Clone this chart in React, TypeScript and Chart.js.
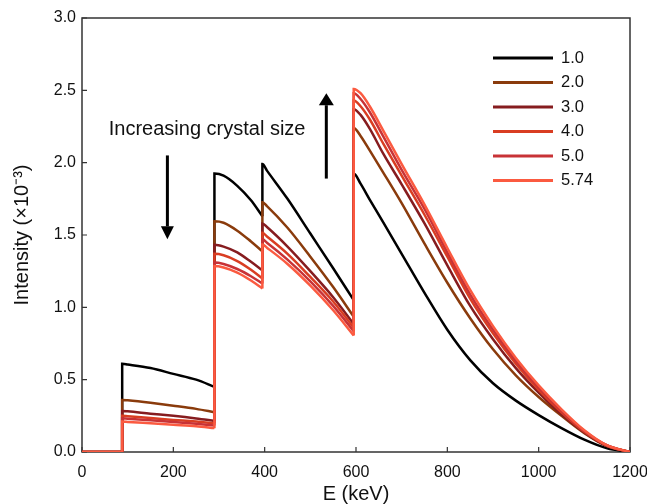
import React, { useEffect, useRef } from "react";
import { Chart, registerables } from "chart.js";

Chart.register(...registerables);

const FONT = "'Liberation Sans', Arial, Helvetica, sans-serif";

// Photon energy grid (keV); repeated values make the absorption-edge jumps
const energyKeV = [
  0, 88, 88, 100, 150, 200, 250, 290,
  290, 310, 340, 370, 395,
  395, 405, 450, 500, 550, 595,
  595, 610, 630, 660, 700, 750, 800, 850, 900, 950, 1000, 1050, 1100, 1150, 1200,
];

// Intensity (x10^-3) for each crystal size
const size1_0 = [
  0, 0, 0.61, 0.605, 0.58, 0.54, 0.5, 0.45,
  1.925, 1.91, 1.84, 1.74, 1.63,
  1.99, 1.945, 1.75, 1.51, 1.27, 1.05,
  1.925, 1.855, 1.745, 1.585, 1.37, 1.1, 0.845, 0.635, 0.475, 0.355, 0.255, 0.165, 0.085, 0.025, 0,
];
const size2_0 = [
  0, 0, 0.36, 0.357, 0.34, 0.32, 0.298, 0.275,
  1.595, 1.585, 1.53, 1.455, 1.387,
  1.727, 1.7, 1.55, 1.35, 1.14, 0.935,
  2.24, 2.185, 2.085, 1.93, 1.72, 1.44, 1.17, 0.925, 0.71, 0.53, 0.38, 0.25, 0.13, 0.04, 0,
];
const size3_0 = [
  0, 0, 0.284, 0.281, 0.265, 0.25, 0.232, 0.215,
  1.433, 1.42, 1.38, 1.315, 1.256,
  1.58, 1.555, 1.42, 1.25, 1.07, 0.885,
  2.37, 2.33, 2.235, 2.06, 1.85, 1.58, 1.29, 1.01, 0.78, 0.58, 0.41, 0.26, 0.135, 0.04, 0,
];
const size4_0 = [
  0, 0, 0.25, 0.247, 0.235, 0.222, 0.21, 0.198,
  1.37, 1.36, 1.32, 1.26, 1.2,
  1.515, 1.49, 1.37, 1.21, 1.04, 0.86,
  2.43, 2.39, 2.3, 2.13, 1.91, 1.64, 1.35, 1.06, 0.82, 0.61, 0.43, 0.275, 0.14, 0.045, 0,
];
const size5_0 = [
  0, 0, 0.233, 0.23, 0.22, 0.207, 0.195, 0.183,
  1.31, 1.3, 1.265, 1.215, 1.165,
  1.47, 1.447, 1.33, 1.18, 1.01, 0.835,
  2.48, 2.44, 2.35, 2.18, 1.95, 1.68, 1.38, 1.09, 0.845, 0.63, 0.445, 0.285, 0.145, 0.045, 0,
];
const size5_74 = [
  0, 0, 0.21, 0.208, 0.198, 0.188, 0.178, 0.165,
  1.285, 1.275, 1.24, 1.185, 1.13,
  1.435, 1.412, 1.3, 1.15, 0.98, 0.805,
  2.51, 2.48, 2.39, 2.22, 1.99, 1.71, 1.41, 1.12, 0.87, 0.65, 0.46, 0.295, 0.15, 0.045, 0,
];

const seriesLabels = ["1.0", "2.0", "3.0", "4.0", "5.0", "5.74"];
const seriesValues = [size1_0, size2_0, size3_0, size4_0, size5_0, size5_74];
const seriesColors = ["#000000", "#8a3b0c", "#861c1f", "#d93d22", "#c83236", "#fb5a40"];

const xTicks = [0, 200, 400, 600, 800, 1000, 1200];
const yTicks = [0, 0.5, 1.0, 1.5, 2.0, 2.5, 3.0];

const annotationText = "Increasing crystal size";
const annotationPos = { x: 274, y: 2.23 };
const downArrow = { x: 187, from: 2.05, to: 1.47 };
const upArrow = { x: 535, from: 1.89, to: 2.48 };

// split a series into pieces at each absorption edge (repeated energy)
function segmentRanges(): Array<[number, number]> {
  const breaks: number[] = [];
  for (let j = 1; j < energyKeV.length; j++) if (energyKeV[j] === energyKeV[j - 1]) breaks.push(j);
  const ranges: Array<[number, number]> = [];
  let start = 0;
  breaks.forEach((b) => {
    ranges.push([start, b - 1]);
    start = b - 1;
  });
  ranges.push([start, energyKeV.length - 1]);
  return ranges;
}

function drawArrow(ctx: CanvasRenderingContext2D, x: number, yFrom: number, yTip: number, headW: number, headH: number) {
  const dir = yTip > yFrom ? 1 : -1;
  ctx.beginPath();
  ctx.moveTo(x, yFrom);
  ctx.lineTo(x, yTip - dir * headH);
  ctx.stroke();
  ctx.beginPath();
  ctx.moveTo(x, yTip);
  ctx.lineTo(x - headW / 2, yTip - dir * headH);
  ctx.lineTo(x + headW / 2, yTip - dir * headH);
  ctx.closePath();
  ctx.fill();
}

const framePlugin = {
  id: "frameAndTicks",
  beforeDatasetsDraw(chart: any) {
    const { ctx, chartArea: a, scales } = chart;
    ctx.save();
    ctx.strokeStyle = "#333333";
    ctx.lineWidth = 1.5;
    ctx.strokeRect(a.left, a.top, a.right - a.left, a.bottom - a.top);
    ctx.lineWidth = 1.2;
    ctx.beginPath();
    scales.x.ticks.forEach((t: any) => {
      const px = scales.x.getPixelForValue(t.value);
      ctx.moveTo(px, a.bottom);
      ctx.lineTo(px, a.bottom - 5);
    });
    scales.y.ticks.forEach((t: any) => {
      const py = scales.y.getPixelForValue(t.value);
      ctx.moveTo(a.left, py);
      ctx.lineTo(a.left + 5, py);
    });
    ctx.stroke();
    ctx.restore();
  },
};

const overlayPlugin = {
  id: "legendAndNotes",
  afterDatasetsDraw(chart: any) {
    const { ctx, chartArea: a, scales } = chart;
    ctx.save();
    // legend
    ctx.font = `16.5px ${FONT}`;
    ctx.textBaseline = "middle";
    ctx.textAlign = "left";
    seriesLabels.forEach((lab, i) => {
      const y = a.top + 40 + i * 24.5;
      ctx.strokeStyle = seriesColors[i];
      ctx.lineWidth = 3;
      ctx.beginPath();
      ctx.moveTo(a.right - 137, y);
      ctx.lineTo(a.right - 77, y);
      ctx.stroke();
      ctx.fillStyle = "#111111";
      ctx.fillText(lab, a.right - 69, y);
    });
    // annotation
    ctx.font = `20px ${FONT}`;
    ctx.textAlign = "center";
    ctx.fillStyle = "#111111";
    ctx.fillText(annotationText, scales.x.getPixelForValue(annotationPos.x), scales.y.getPixelForValue(annotationPos.y));
    ctx.strokeStyle = "#000000";
    ctx.fillStyle = "#000000";
    ctx.lineWidth = 3;
    drawArrow(ctx, scales.x.getPixelForValue(downArrow.x), scales.y.getPixelForValue(downArrow.from), scales.y.getPixelForValue(downArrow.to), 13, 13);
    drawArrow(ctx, scales.x.getPixelForValue(upArrow.x), scales.y.getPixelForValue(upArrow.from), scales.y.getPixelForValue(upArrow.to), 15, 12);
    ctx.restore();
  },
};

export default function App() {
  const canvasRef = useRef<HTMLCanvasElement | null>(null);

  useEffect(() => {
    if (!canvasRef.current) return;
    const ranges = segmentRanges();
    const datasets: any[] = [];
    seriesLabels.forEach((label, i) => {
      ranges.forEach(([s, e]) => {
        const data = [];
        for (let j = s; j <= e; j++) data.push({ x: energyKeV[j], y: seriesValues[i][j] });
        datasets.push({
          label,
          data,
          borderColor: seriesColors[i],
          backgroundColor: seriesColors[i],
          borderWidth: 2.5,
          pointRadius: 0,
          cubicInterpolationMode: "monotone",
          fill: false,
          order: seriesLabels.length - i,
        });
      });
    });
    const chart = new Chart(canvasRef.current, {
      type: "line",
      data: { datasets },
      plugins: [framePlugin, overlayPlugin],
      options: {
        animation: false,
        responsive: false,
        layout: { padding: { top: 18, right: 17, left: 0, bottom: 0 } },
        plugins: { legend: { display: false }, tooltip: { enabled: false } },
        scales: {
          x: {
            type: "linear",
            min: 0,
            max: 1200,
            afterBuildTicks: (s: any) => {
              s.ticks = xTicks.map((v) => ({ value: v }));
            },
            ticks: { font: { family: FONT, size: 16 }, color: "#111111", padding: 11, maxRotation: 0, autoSkip: false, callback: (v: any) => String(v) },
            grid: { display: false, drawTicks: false },
            border: { display: false },
            title: { display: true, text: "E (keV)", font: { family: FONT, size: 20 }, color: "#111111", padding: { top: 0, bottom: -2 } },
            afterFit: (s: any) => {
              s.height = 52;
              s.paddingLeft = 0;
              s.paddingRight = 0;
            },
          },
          y: {
            type: "linear",
            min: 0,
            max: 3,
            afterBuildTicks: (s: any) => {
              s.ticks = yTicks.map((v) => ({ value: v }));
            },
            ticks: { font: { family: FONT, size: 16 }, color: "#111111", padding: 6, autoSkip: false, callback: (v: any) => Number(v).toFixed(1) },
            grid: { display: false, drawTicks: false },
            border: { display: false },
            title: { display: true, text: "Intensity (×10⁻³)", font: { family: FONT, size: 20 }, color: "#111111", padding: { top: 10, bottom: 0 } },
            afterFit: (s: any) => {
              s.width = 82;
              s.paddingTop = 0;
              s.paddingBottom = 0;
            },
          },
        },
      },
    } as any);
    return () => chart.destroy();
  }, []);

  return (
    <div style={{ position: "fixed", left: 0, top: 0, width: 647, height: 504, background: "#ffffff" }}>
      <canvas ref={canvasRef} width={647} height={504} />
    </div>
  );
}
